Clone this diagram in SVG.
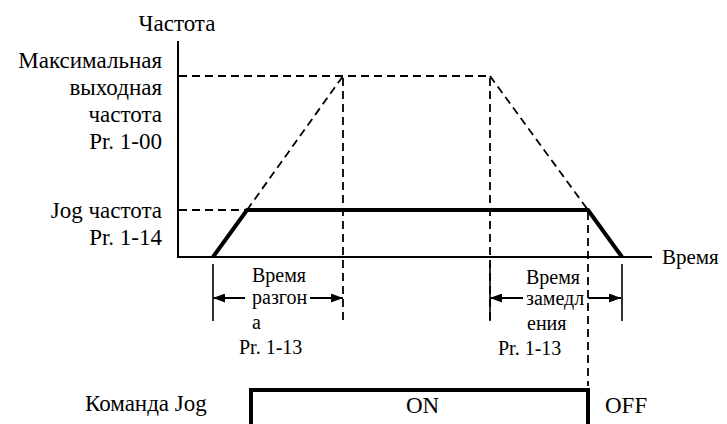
<svg xmlns="http://www.w3.org/2000/svg" width="727" height="424" viewBox="0 0 727 424" font-family="Liberation Serif, Times New Roman, serif">
<style>
text{fill:#000}
.big{font-size:23px}
.sm{font-size:20px}
.r{text-anchor:end}
.axis{stroke:#000;stroke-width:2;fill:none}
.dash{stroke:#000;stroke-width:1.8;stroke-dasharray:8,5;fill:none}
.thick{stroke:#000;stroke-width:4;fill:none}
.tick{stroke:#000;stroke-width:1.6;fill:none}
.dim{stroke:#000;stroke-width:2;fill:none;marker-end:url(#ah)}
</style>
<defs>
<marker id="ah" viewBox="0 0 12 9" refX="12" refY="4.5" markerWidth="12" markerHeight="9" markerUnits="userSpaceOnUse" orient="auto">
<path d="M0,0L12,4.5L0,9z" fill="#000"/>
</marker>
</defs>
<g id="labels">
<text class="big" x="177" y="31" text-anchor="middle">Частота</text>
<text class="big r" x="162" y="68">Максимальная</text>
<text class="big r" x="162" y="95">выходная</text>
<text class="big r" x="162" y="122">частота</text>
<text class="big r" x="162" y="149">Pr. 1-00</text>
<text class="big r" x="162" y="218">Jog частота</text>
<text class="big r" x="162" y="245">Pr. 1-14</text>
<text x="662" y="264" font-size="21">Время</text>
</g>
<g id="axes">
<line class="axis" x1="178" y1="41" x2="178" y2="257"/>
<line class="axis" x1="177" y1="257" x2="652" y2="257"/>
</g>
<g id="guides">
<line class="dash" x1="179" y1="76" x2="490" y2="76"/>
<line class="dash" x1="179" y1="210" x2="246" y2="210"/>
<line class="dash" x1="247" y1="210" x2="343" y2="76"/>
<line class="dash" x1="490" y1="76" x2="588" y2="210"/>
<line class="dash" x1="343" y1="78" x2="343" y2="321"/>
<line class="dash" x1="490" y1="78" x2="490" y2="321"/>
<line class="dash" x1="588" y1="212" x2="588" y2="386"/>
</g>
<g id="jog-curve">
<polyline class="thick" points="213,257 247,210 588,210 622,257"/>
</g>
<g id="accel-dim">
<line class="tick" x1="213" y1="264" x2="213" y2="321"/>
<line class="dim" x1="245" y1="298" x2="213" y2="298"/>
<line class="dim" x1="310" y1="298" x2="343" y2="298"/>
<text class="sm" x="252" y="282">Время</text>
<text class="sm" x="252" y="304">разгон</text>
<text class="sm" x="252" y="329">а</text>
<text class="sm" x="239" y="354">Pr. 1-13</text>
</g>
<g id="decel-dim">
<line class="tick" x1="490" y1="264" x2="490" y2="321"/>
<line class="tick" x1="622" y1="264" x2="622" y2="321"/>
<line class="dim" x1="523" y1="298" x2="490" y2="298"/>
<line class="dim" x1="588" y1="298" x2="621" y2="298"/>
<text class="sm" x="526" y="284">Время</text>
<text class="sm" x="526" y="305">замедл</text>
<text class="sm" x="527" y="330">ения</text>
<text class="sm" x="498" y="355">Pr. 1-13</text>
</g>
<g id="jog-command">
<text class="big" x="85" y="411">Команда Jog</text>
<polyline class="thick" points="251,424 251,390 588,390 588,424"/>
<text class="big" x="406" y="413">ON</text>
<text class="big" x="605" y="413">OFF</text>
</g>
</svg>
